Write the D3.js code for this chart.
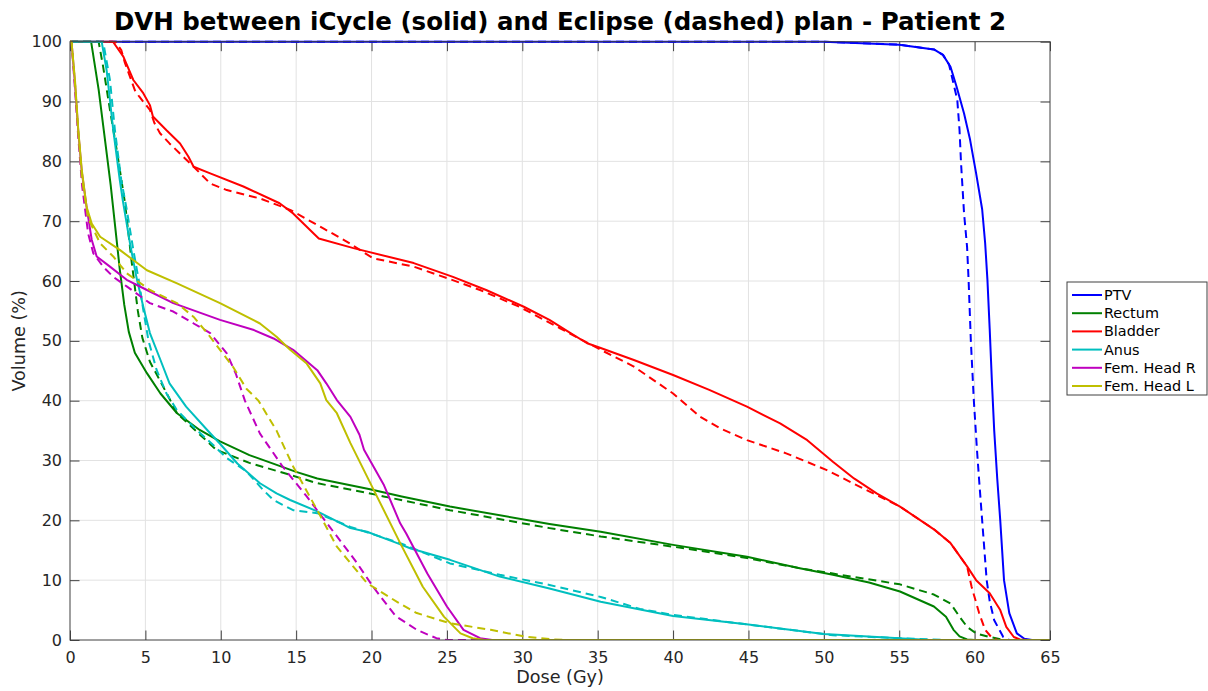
<!DOCTYPE html>
<html>
<head>
<meta charset="utf-8">
<script src="https://cdn.jsdelivr.net/npm/d3@7"></script>
<style>
  body { margin: 0; background: #fff; }
  text { font-family: "DejaVu Sans", sans-serif; }
</style>
</head>
<body>
<svg id="chart" width="1208" height="691"></svg>
<script>
// Structure names and plot colours (MATLAB classic colour order)
const structures = ["PTV", "Rectum", "Bladder", "Anus", "Fem. Head R", "Fem. Head L"];
const colors = ["#0000ff", "#008000", "#ff0000", "#00bfbf", "#bf00bf", "#bfbf00"];

// Tick values
const xTicks = [0, 5, 10, 15, 20, 25, 30, 35, 40, 45, 50, 55, 60, 65];
const yTicks = [0, 10, 20, 30, 40, 50, 60, 70, 80, 90, 100];

// DVH points: [dose (Gy), volume (%)] — solid = iCycle, dashed = Eclipse
const ptvSolid = [[0,100],[50,100],[55,99.5],[57.3,98.7],[57.9,97.8],[58.4,95.8],[58.8,92.5],[59.3,88],[59.7,83.6],[60.1,78],[60.5,72],[60.7,66.3],[60.85,60.2],[61.0,52],[61.15,43],[61.3,35],[61.5,27],[61.7,20],[61.95,10],[62.3,4.5],[62.8,1.1],[63.3,0.2],[63.8,0],[65,0]];
const ptvDashed = [[0,100],[50,100],[55,99.5],[57.3,98.7],[57.9,97.8],[58.3,96.2],[58.6,93],[58.85,90.3],[59.0,85.2],[59.1,79.7],[59.3,71.3],[59.5,65.7],[59.6,60.2],[59.75,50],[59.95,40],[60.15,32],[60.3,26.7],[60.5,20],[60.8,10],[61.0,6.5],[61.3,3.3],[61.9,0.5],[62.3,0],[65,0]];

const rectumSolid = [[0,100],[1.4,100],[1.9,92],[2.3,84],[2.7,76],[3.0,69],[3.3,62],[3.6,56],[3.9,51.5],[4.3,48],[5.1,44.6],[6.0,41.2],[7.1,37.9],[8.6,35.1],[9.95,33.2],[11.9,30.9],[15.0,28.1],[16.4,27],[19.9,25.2],[22,24],[25.2,22.3],[31.8,19.4],[35.2,18.1],[40,15.9],[44.9,13.9],[48.4,12],[50.6,10.9],[53,9.6],[55.05,8.1],[57.3,5.6],[58.1,3.9],[58.6,1.7],[59.0,0.6],[59.5,0.1],[60,0],[65,0]];
const rectumDashed = [[0,100],[1.9,100],[2.2,95.8],[2.65,88.6],[3.1,81.9],[3.65,73],[4.1,63],[4.5,55],[4.8,50.5],[5.3,46.5],[6.0,43.2],[7.1,37.9],[8.2,35.3],[9.7,31.8],[11.9,29.6],[14.6,27.6],[16.4,26.2],[19.9,24.5],[20.8,24],[25.2,21.7],[31.8,18.7],[35.2,17.3],[40,15.6],[44.9,13.7],[48.4,12],[50.6,11.1],[55.05,9.3],[57.3,7.6],[58.4,6.1],[59.0,3.9],[59.5,2.2],[60.1,1.1],[61.0,0.5],[62,0],[65,0]];

const bladderSolid = [[0,100],[2.85,100],[3.54,97.5],[4.2,93.6],[4.86,91.4],[5.3,89.4],[5.5,87.5],[6.4,85.2],[7.3,83],[7.85,80.8],[8.2,79.1],[9.3,78],[11.5,75.8],[13.9,73],[14.8,71.3],[16.5,67.1],[18.8,65.5],[22.8,63],[25.4,60.7],[27.6,58.5],[30.1,55.7],[31.8,53.5],[33.2,51.3],[34.3,49.6],[35.2,48.8],[37.4,46.8],[40.0,44.3],[42.4,41.8],[44.9,39],[47.1,36.2],[48.9,33.4],[50.6,29.8],[52.0,27],[53.5,24.5],[55.05,22.3],[57.3,18.5],[58.4,16.2],[59.5,12.3],[60.1,10],[61.0,7.8],[61.7,5],[62.1,2.2],[62.6,0.5],[63.0,0.1],[63.5,0],[65,0]];
const bladderDashed = [[0,100],[3.0,100],[3.4,98.6],[3.65,96.4],[4.3,91.9],[4.6,90.8],[5.3,88.6],[5.6,86.4],[5.97,84.7],[6.6,83],[7.5,80.8],[8.2,79.1],[9.3,76.3],[10.4,75.2],[12.6,73.8],[14.6,71.9],[16.8,68.8],[18.35,66.6],[20.1,63.8],[22.8,62.4],[25.0,60.5],[27.2,58.5],[29.8,55.7],[32.5,52.1],[35.2,48.5],[37.4,45.7],[40.0,41.2],[41.8,37.3],[43.1,35.4],[44.9,33.4],[47.5,31.2],[50.2,28.4],[52.4,25.6],[55.05,22.3],[57.3,18.5],[58.4,16.2],[59.5,12.3],[59.8,8.9],[60.3,4.5],[60.7,1.7],[61.1,0.5],[61.5,0],[65,0]];

const anusSolid = [[0,100],[2.1,100],[2.43,95.2],[2.87,85.2],[3.3,76.9],[3.5,73.5],[3.98,66.3],[4.4,60.7],[4.86,55.7],[5.3,51.3],[6.0,46.8],[6.6,42.9],[7.7,39],[9.1,35.1],[9.95,32.8],[11.1,29.5],[12.6,26.2],[13.7,24.5],[14.6,23.4],[16.4,21.5],[18.6,18.7],[19.7,18.1],[21.7,16.2],[22.6,15.3],[25.2,13.4],[28.5,10.6],[31.8,8.6],[35.2,6.4],[40,4],[45,2.6],[50,1.0],[55,0.3],[57,0],[65,0]];
const anusDashed = [[0,100],[2.2,100],[2.65,93.6],[2.98,85.2],[3.4,76.9],[3.76,72],[4.2,65.2],[4.6,59.6],[4.86,55.2],[5.2,50.1],[5.75,45.1],[6.4,41.2],[7.1,38.4],[8.4,35.1],[9.5,32.6],[10.4,30.4],[11.7,28.2],[12.8,25.1],[13.5,23.4],[14.1,22.6],[14.8,21.7],[16.4,21.2],[18.6,18.9],[21.9,16.2],[25.2,12.8],[28.5,10.9],[31.8,9.2],[35.2,7.2],[37.8,5.2],[40,4.2],[44.9,2.6],[50.6,0.8],[55,0.3],[58,0],[65,0]];

const femRSolid = [[0,100],[0.1,100],[0.33,93],[0.55,85],[0.78,78.3],[1.1,72.4],[1.44,66.9],[1.77,64.1],[2.65,62.4],[3.76,60.2],[5.1,58.5],[6.85,56.3],[9.95,53.5],[12.2,51.8],[13.5,50.4],[14.8,48.5],[16.4,45.1],[17.0,42.9],[17.7,40.1],[18.6,37.3],[19.2,34.3],[19.5,31.8],[20.8,26],[21.9,19.5],[22.3,17.8],[23.7,11.1],[25.0,5.6],[26.1,1.7],[27.2,0.3],[28,0],[65,0]];
const femRDashed = [[0,100],[0.1,100],[0.33,92],[0.55,84],[0.8,76],[1.2,68],[1.55,64.6],[2.2,62.4],[2.87,60.7],[3.76,59.1],[5.3,56.3],[6.85,54.9],[8.2,52.9],[9.3,51.3],[10.4,47.9],[11.0,44.5],[11.6,40],[12.6,34.5],[14.1,29],[15.7,24],[17.2,19],[19.0,13],[20.1,8.9],[21.6,4],[23.0,1.7],[24.3,0.3],[25,0],[65,0]];

const femLSolid = [[0,100],[0.1,100],[0.33,93.6],[0.55,85.2],[0.78,78.6],[1.1,72.4],[1.44,69.6],[2.0,67.4],[3.3,65.2],[5.1,61.8],[7.1,59.6],[9.95,56.3],[12.6,52.9],[13.7,50.7],[14.6,48.5],[15.7,46.2],[16.6,42.9],[17.0,40.1],[17.7,37.9],[18.6,32.9],[20.2,24.8],[21.9,16.2],[23.4,8.9],[24.8,3.9],[25.9,1.1],[26.7,0.3],[27.5,0],[65,0]];
const femLDashed = [[0,100],[0.1,100],[0.33,93],[0.55,85],[0.8,77],[1.2,70.5],[2.0,66.3],[2.87,64.1],[3.76,61.3],[5.3,58.5],[7.1,56.3],[8.2,54],[9.1,51.3],[9.95,48.5],[10.8,45.7],[11.7,42],[12.5,40],[13.7,35],[14.8,29],[16.4,21.7],[17.7,15.6],[19.7,9.5],[21.8,6.2],[23.0,4.5],[25.2,2.8],[27.9,1.7],[30.1,0.6],[32,0.1],[33,0],[65,0]];

const solidSeries = [ptvSolid, rectumSolid, bladderSolid, anusSolid, femRSolid, femLSolid];
const dashedSeries = [ptvDashed, rectumDashed, bladderDashed, anusDashed, femRDashed, femLDashed];

const svg = d3.select("#chart");
const plotLeft = 70, plotRight = 1050, plotTop = 41.7, plotBottom = 640;
const axisColor = "#404040";
const tickLen = 9.5;

const x = d3.scaleLinear().domain([0, 65]).range([plotLeft, plotRight]);
const y = d3.scaleLinear().domain([0, 100]).range([plotBottom, plotTop]);

svg.append("rect").attr("width", 1208).attr("height", 691).attr("fill", "#fff");

// Grid
const grid = svg.append("g").attr("stroke", "#e2e2e2").attr("stroke-width", 1);
grid.selectAll(".gx").data(xTicks.slice(1, -1)).join("line")
  .attr("x1", d => x(d)).attr("x2", d => x(d)).attr("y1", plotTop).attr("y2", plotBottom);
grid.selectAll(".gy").data(yTicks.slice(1, -1)).join("line")
  .attr("y1", d => y(d)).attr("y2", d => y(d)).attr("x1", plotLeft).attr("x2", plotRight);

// Axes with inward ticks on all four sides
function styleAxis(g) {
  g.select(".domain").remove();
  g.selectAll(".tick line").attr("stroke", axisColor).attr("stroke-width", 1);
  g.selectAll(".tick text").attr("fill", "#262626").attr("font-size", 16)
    .attr("font-family", "DejaVu Sans, sans-serif");
}
svg.append("g").attr("transform", `translate(0,${plotBottom})`)
  .call(d3.axisBottom(x).tickValues(xTicks).tickSize(-tickLen).tickPadding(12).tickFormat(d3.format("d")))
  .call(styleAxis);
svg.append("g").attr("transform", `translate(0,${plotTop})`)
  .call(d3.axisTop(x).tickValues(xTicks).tickSize(-tickLen).tickFormat(""))
  .call(styleAxis);
svg.append("g").attr("transform", `translate(${plotLeft},0)`)
  .call(d3.axisLeft(y).tickValues(yTicks).tickSize(-tickLen).tickPadding(8).tickFormat(d3.format("d")))
  .call(styleAxis);
svg.append("g").attr("transform", `translate(${plotRight},0)`)
  .call(d3.axisRight(y).tickValues(yTicks).tickSize(-tickLen).tickFormat(""))
  .call(styleAxis);

// Curves
svg.append("clipPath").attr("id", "plotclip").append("rect")
  .attr("x", plotLeft).attr("y", plotTop - 2).attr("width", plotRight - plotLeft).attr("height", plotBottom - plotTop + 2);
const line = d3.line().x(d => x(d[0])).y(d => y(d[1]));
const curves = svg.append("g").attr("clip-path", "url(#plotclip)")
  .attr("fill", "none").attr("stroke-width", 2).attr("stroke-linejoin", "round");
structures.forEach((name, i) => {
  curves.append("path").datum(solidSeries[i]).attr("d", line).attr("stroke", colors[i]);
  curves.append("path").datum(dashedSeries[i]).attr("d", line).attr("stroke", colors[i])
    .attr("stroke-dasharray", "8,5");
});

// Plot box
svg.append("rect").attr("x", plotLeft).attr("y", plotTop).attr("width", plotRight - plotLeft).attr("height", plotBottom - plotTop)
  .attr("fill", "none").attr("stroke", axisColor).attr("stroke-width", 1);

// Title and axis labels
svg.append("text").attr("x", (plotLeft + plotRight) / 2).attr("y", 29.5).attr("text-anchor", "middle")
  .attr("font-size", 24.5).attr("font-weight", "bold").attr("fill", "#000")
  .text("DVH between iCycle (solid) and Eclipse (dashed) plan - Patient 2");
svg.append("text").attr("x", (plotLeft + plotRight) / 2).attr("y", 683).attr("text-anchor", "middle")
  .attr("font-size", 17.6).attr("fill", "#262626").text("Dose (Gy)");
svg.append("text").attr("transform", `translate(25,${(plotTop + plotBottom) / 2}) rotate(-90)`)
  .attr("text-anchor", "middle").attr("font-size", 17.6).attr("fill", "#262626").text("Volume (%)");

// Legend
const lg = svg.append("g").attr("transform", "translate(1067,282)");
lg.append("rect").attr("width", 140).attr("height", 113).attr("fill", "#fff")
  .attr("stroke", axisColor).attr("stroke-width", 1);
structures.forEach((name, i) => {
  const yy = 13 + i * 18.2;
  lg.append("line").attr("x1", 5).attr("x2", 35).attr("y1", yy).attr("y2", yy)
    .attr("stroke", colors[i]).attr("stroke-width", 2);
  lg.append("text").attr("x", 37).attr("y", yy + 5).attr("font-size", 14.4)
    .attr("fill", "#000").text(name);
});
</script>
</body>
</html>
